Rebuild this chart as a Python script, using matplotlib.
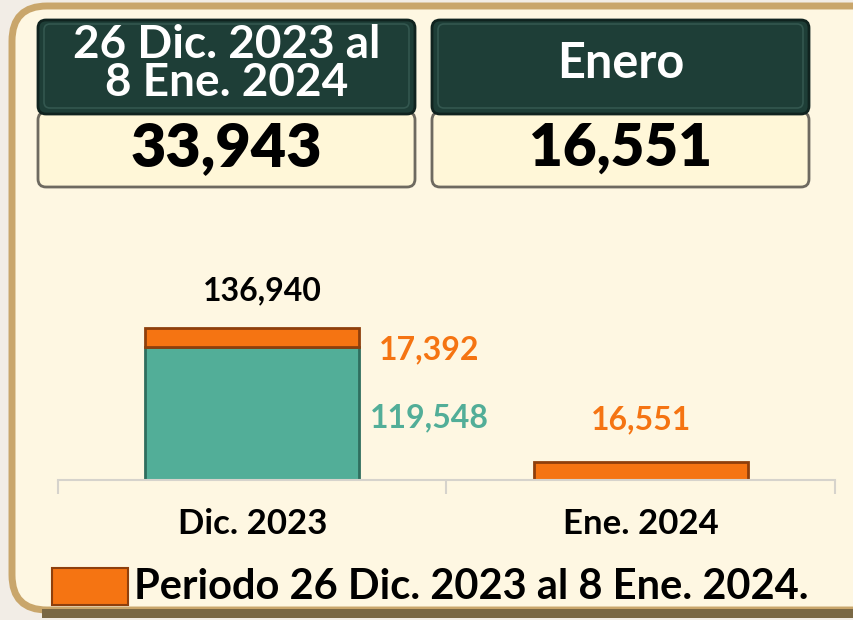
import matplotlib
matplotlib.use('Agg')
import matplotlib.pyplot as plt
from matplotlib.patches import FancyBboxPatch, Rectangle

plt.rcParams['font.family'] = ['Lato', 'DejaVu Sans']

categories = ['Dic. 2023', 'Ene. 2024']
acumulado = [119548, 0]
periodo = [17392, 16551]
header_titles = ['26 Dic. 2023 al\n8 Ene. 2024', 'Enero']
header_values = ['33,943', '16,551']
legend_text = 'Periodo 26 Dic. 2023 al 8 Ene. 2024.'

teal = '#52AE98'
teal_dark = '#2F6E5E'
orange = '#F57412'
orange_dark = '#8E3F0C'
cream = '#FEF7E2'
dark_green = '#1E3E37'

fig = plt.figure(figsize=(8.54, 6.2), dpi=100)
fig.patch.set_facecolor('#F2EDE6')

# background layer in pixel coordinates
bg = fig.add_axes([0, 0, 1, 1], zorder=0)
bg.set_xlim(0, 854)
bg.set_ylim(620, 0)
bg.axis('off')

bg.add_patch(FancyBboxPatch((12, 6), 900, 604, boxstyle='round,pad=0,rounding_size=35',
                            fc=cream, ec='#C9A66B', lw=5))
bg.add_patch(Rectangle((42, 609), 900, 9, fc='#7A6844', ec='none'))

title_sizes = [33, 35]
value_sizes = [44, 42]
for i, x0 in enumerate([38, 432]):
    w = 377
    bg.add_patch(FancyBboxPatch((x0, 112), w, 75, boxstyle='round,pad=0,rounding_size=8',
                                fc='#FFF7D8', ec='#6E6A60', lw=2))
    bg.add_patch(FancyBboxPatch((x0, 20), w, 94, boxstyle='round,pad=0,rounding_size=8',
                                fc=dark_green, ec='#10231F', lw=2))
    bg.add_patch(FancyBboxPatch((x0 + 6, 24), w - 12, 84, boxstyle='round,pad=0,rounding_size=6',
                                fc='none', ec='#33574F', lw=1.2))
    bg.text(x0 + w / 2, 64, header_titles[i], color='white', fontsize=title_sizes[i],
            fontweight='bold', ha='center', va='center', linespacing=0.9)
    bg.text(x0 + w / 2, 148, header_values[i], color='black', fontsize=value_sizes[i],
            fontweight='heavy', ha='center', va='center')

# legend swatch and text
bg.add_patch(Rectangle((52, 568), 76, 37, fc=orange, ec=orange_dark, lw=1.5))
bg.text(134, 587, legend_text, color='black', fontsize=30, fontweight='bold',
        ha='left', va='center')

# chart
ax = fig.add_axes([58 / 854, 140 / 620, 777 / 854, 230 / 620], zorder=1)
ax.patch.set_alpha(0)
x = range(len(categories))
width = 0.55
ax.bar(x, acumulado, width, color=teal, edgecolor=teal_dark, lw=2)
ax.bar(x, periodo, width, bottom=acumulado, color=orange, edgecolor=orange_dark, lw=2)
ax.set_xlim(-0.5, 1.5)
ax.set_ylim(0, 207000)

for sp in ['top', 'left', 'right']:
    ax.spines[sp].set_visible(False)
ax.spines['bottom'].set_color('#D6D3CC')
ax.spines['bottom'].set_linewidth(1.5)
ax.set_yticks([])
ax.set_xticks([-0.5, 0.5, 1.5], minor=True)
ax.tick_params(axis='x', which='minor', length=10, color='#D6D3CC', width=1.5)
ax.tick_params(axis='x', which='major', length=0, pad=20)
ax.set_xticks(list(x))
ax.set_xticklabels(categories, fontsize=25, fontweight='bold')

# value labels
lbl = dict(fontsize=23, fontweight='bold', textcoords='offset points', va='center')
total_dic = acumulado[0] + periodo[0]
ax.annotate(f'{total_dic:,}', (0, total_dic), xytext=(7, 27), ha='center', color='black', **lbl)
ax.annotate(f'{periodo[0]:,}', (width / 2, acumulado[0]), xytext=(14, -2), ha='left',
            color=orange, **lbl)
ax.annotate(f'{acumulado[0]:,}', (width / 2, acumulado[0] / 2), xytext=(8, -3), ha='left',
            color=teal, **lbl)
ax.annotate(f'{periodo[1]:,}', (1, periodo[1]), xytext=(0, 30), ha='center', color=orange, **lbl)

fig.savefig('out.png', dpi=100, facecolor=fig.get_facecolor())
